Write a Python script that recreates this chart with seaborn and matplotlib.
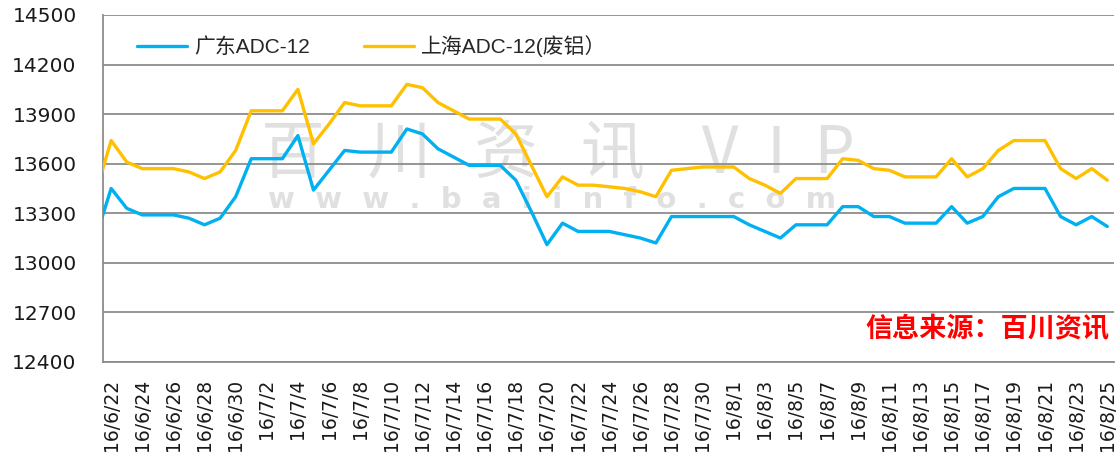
import pandas as pd
import seaborn as sns
from matplotlib import pyplot as plt
import matplotlib.dates as mdates

# daily prices, 2016-06-21 .. 2016-08-25 (first day sits just left of the axis)
dates = pd.date_range("2016-06-21", "2016-08-25", freq="D")

guangdong = [13150, 13450, 13330, 13290, 13290, 13290, 13270, 13230, 13270, 13400,
             13630, 13630, 13630, 13770, 13440, 13560, 13680, 13670, 13670, 13670,
             13810, 13780, 13690, 13640, 13590, 13590, 13590, 13500, 13310, 13110,
             13240, 13190, 13190, 13190, 13170, 13150, 13120, 13280, 13280, 13280,
             13280, 13280, 13230, 13190, 13150, 13230, 13230, 13230, 13340, 13340,
             13280, 13280, 13240, 13240, 13240, 13340, 13240, 13280, 13400, 13450,
             13450, 13450, 13280, 13230, 13280, 13220]

shanghai = [13420, 13740, 13610, 13570, 13570, 13570, 13550, 13510, 13550, 13680,
            13920, 13920, 13920, 14050, 13720, 13840, 13970, 13950, 13950, 13950,
            14080, 14060, 13970, 13920, 13870, 13870, 13870, 13780, 13590, 13400,
            13520, 13470, 13470, 13460, 13450, 13430, 13400, 13560, 13570, 13580,
            13580, 13580, 13510, 13470, 13420, 13510, 13510, 13510, 13630, 13620,
            13570, 13560, 13520, 13520, 13520, 13630, 13520, 13570, 13680, 13740,
            13740, 13740, 13570, 13510, 13570, 13500]

series_names = ["广东ADC-12", "上海ADC-12(废铝）"]
series_colors = ["#00B0F0", "#FFC000"]
y_ticks = list(range(12400, 14501, 300))


def build_frame():
    df = pd.DataFrame({"date": list(dates) * 2,
                       "price": guangdong + shanghai,
                       "series": [series_names[0]] * len(dates) + [series_names[1]] * len(dates)})
    return df


def plot_chart(data, file_name):
    sns.set_style("white")
    plt.rcParams['font.family'] = ['DejaVu Sans', 'Noto Sans CJK SC']

    fig = plt.figure(figsize=(11.2, 4.75), dpi=100)
    ax = fig.add_axes([0.092, 0.238, 0.903, 0.7305])

    # watermark behind the lines
    ax.text(0.45, 0.60, "百   川   资   讯    V  I  P", transform=ax.transAxes, ha="center", va="center",
            fontsize=46, color="#e0e0e0", family=['Noto Sans CJK SC'], zorder=0)
    ax.text(0.444, 0.467, "w  w  w  .  b  a  i  i  n  f  o  .  c  o  m", transform=ax.transAxes,
            ha="center", va="center", fontsize=21, fontweight="bold", color="#e0e0e0", zorder=0)

    sns.lineplot(data=data, x="date", y="price", hue="series", hue_order=series_names,
                 palette=series_colors, linewidth=2.4, ax=ax, zorder=3)

    ax.set_ylim(12400, 14500)
    ax.set_yticks(y_ticks)
    ax.set_xlim(pd.Timestamp("2016-06-22") - pd.Timedelta(hours=12.5),
                pd.Timestamp("2016-08-25") + pd.Timedelta(hours=11))
    ax.set_xticks(pd.date_range("2016-06-22", "2016-08-25", freq="2D"))
    ax.xaxis.set_major_formatter(mdates.DateFormatter("%y/%-m/%-d"))
    plt.setp(ax.get_xticklabels(), rotation=90)

    ax.grid(axis="y", color="#8c8c8c", linewidth=1.3)
    ax.tick_params(axis="y", length=0, pad=19, labelsize=14.5, labelcolor="#1a1a1a")
    ax.tick_params(axis="x", length=0, pad=12, labelsize=13.5, labelcolor="#1a1a1a")
    ax.set_xlabel("")
    ax.set_ylabel("")
    for side in ["top", "right"]:
        ax.spines[side].set_visible(False)
    for side in ["left", "bottom"]:
        ax.spines[side].set_color("#8c8c8c")
        ax.spines[side].set_linewidth(1.3)

    ax.legend(loc="upper left", bbox_to_anchor=(0.015, 0.995), ncol=2, frameon=False,
              handlelength=2.4, handletextpad=0.35, columnspacing=2.6,
              prop={"family": ['Liberation Sans', 'Noto Sans CJK SC'], "size": 15})

    ax.text(0.995, 0.095, "信息来源：百川资讯", transform=ax.transAxes, ha="right", va="center",
            fontsize=19.5, fontweight="bold", color="#FF0000", family=['Noto Sans CJK SC'])

    plt.savefig(file_name)


def main():
    df = build_frame()
    plot_chart(df, "out.png")


if __name__ == "__main__":
    main()
